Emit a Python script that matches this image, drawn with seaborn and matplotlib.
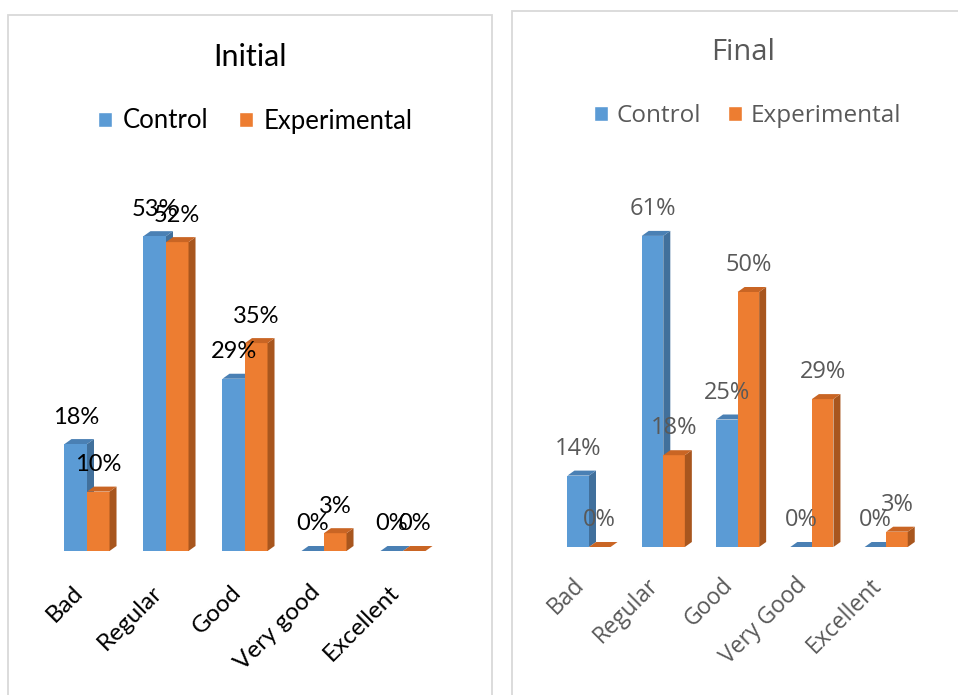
import matplotlib
matplotlib.use("Agg")
import matplotlib.pyplot as plt
import numpy as np
import pandas as pd
import seaborn as sns
from matplotlib.patches import Polygon, Rectangle, Patch

# ---- data -------------------------------------------------------------
categories_initial = ["Bad", "Regular", "Good", "Very good", "Excellent"]
categories_final = ["Bad", "Regular", "Good", "Very Good", "Excellent"]
groups = ["Control", "Experimental"]

initial_control = [18, 53, 29, 0, 0]
initial_experimental = [10, 52, 35, 3, 0]
final_control = [14, 61, 25, 0, 0]
final_experimental = [0, 18, 50, 29, 3]

# ---- style ------------------------------------------------------------
FRONT = {"Control": "#5B9BD5", "Experimental": "#ED7D31"}
SIDE = {"Control": "#41709C", "Experimental": "#A8561E"}
TOP = {"Control": "#4A80B4", "Experimental": "#C96524"}
DEPTH_X, DEPTH_Y = 7, 5  # pseudo-3D depth in pixels

W, H = 958, 695
sns.set_style("white")
fig = plt.figure(figsize=(W / 100, H / 100), dpi=100)
fig.patch.set_facecolor("white")


def px_axes(left, top, right, bottom):
    return fig.add_axes([left / W, 1 - bottom / H, (right - left) / W, (bottom - top) / H])


def draw_panel(ax, cats, ctrl, exp, width, ymax, family, color, label_fs, tick_fs, tick_pad):
    df = pd.DataFrame({
        "category": cats * 2,
        "group": [groups[0]] * len(cats) + [groups[1]] * len(cats),
        "value": ctrl + exp,
    })
    sns.barplot(data=df, x="category", y="value", hue="group", order=cats,
                hue_order=groups, palette=FRONT, width=width, saturation=1,
                errorbar=None, legend=False, ax=ax)
    ax.set_xlim(-0.5, len(cats) - 0.5)
    ax.set_ylim(0, ymax)

    to_px = ax.transData
    to_data = ax.transData.inverted()
    for gi, (g, cont) in enumerate(zip(groups, ax.containers)):
        zfront = 3 + 2 * gi
        for bar, v in zip(cont.patches, ctrl if gi == 0 else exp):
            bar.set_zorder(zfront)
            bar.set_edgecolor("none")
            x0 = bar.get_x()
            x1 = x0 + bar.get_width()
            (px0, py0), (px1, py1) = to_px.transform([(x0, 0), (x1, v)])
            side = [(px1, py0), (px1 + DEPTH_X, py0 + DEPTH_Y),
                    (px1 + DEPTH_X, py1 + DEPTH_Y), (px1, py1)]
            top = [(px0, py1), (px0 + DEPTH_X, py1 + DEPTH_Y),
                   (px1 + DEPTH_X, py1 + DEPTH_Y), (px1, py1)]
            zside = zfront - 1 if gi == 0 else zfront + 1
            if v > 0:
                ax.add_patch(Polygon(to_data.transform(side), closed=True,
                                     facecolor=SIDE[g], edgecolor="none",
                                     zorder=zside, clip_on=False))
            ax.add_patch(Polygon(to_data.transform(top), closed=True,
                                 facecolor=TOP[g], edgecolor="none",
                                 zorder=zside, clip_on=False))
            ax.annotate(f"{v}%", xy=((x0 + x1) / 2, v), xytext=(0, 27),
                        textcoords="offset pixels", ha="center", va="center",
                        fontsize=label_fs, family=family, color=color,
                        zorder=10, annotation_clip=False)

    ax.set_xticks(range(len(cats)))
    ax.set_xticklabels(cats, rotation=45, ha="right", va="top",
                       fontsize=tick_fs, family=family, color=color)
    ax.tick_params(axis="x", length=0, pad=tick_pad)
    ax.set_yticks([])
    ax.set_xlabel("")
    ax.set_ylabel("")
    for s in ax.spines.values():
        s.set_visible(False)
    ax.patch.set_alpha(0)


# ---- panel frames -----------------------------------------------------
fig.add_artist(Rectangle((8 / W, 1 - 720 / H), 484 / W, 705 / H,
                         transform=fig.transFigure, fill=False,
                         edgecolor="#d9d9d9", linewidth=1.3))
fig.add_artist(Rectangle((512 / W, 1 - 720 / H), 470 / W, 709 / H,
                         transform=fig.transFigure, fill=False,
                         edgecolor="#d9d9d9", linewidth=1.3))

# ---- Initial ----------------------------------------------------------
ax1 = px_axes(47.5, 194.6, 442.5, 551)
draw_panel(ax1, categories_initial, initial_control, initial_experimental,
           width=0.57, ymax=60, family="Lato", color="black",
           label_fs=17, tick_fs=17.5, tick_pad=22)
fig.text(250 / W, 1 - 57 / H, "Initial", ha="center", va="center",
         fontsize=22, family="Lato", color="black")
fig.legend([Patch(facecolor=FRONT[g]) for g in groups], groups,
           loc="center", bbox_to_anchor=(255 / W, 1 - 121 / H), ncol=2,
           frameon=False, prop={"family": "Lato", "size": 18.5},
           handlelength=0.55, handleheight=0.55, handletextpad=0.4,
           columnspacing=1.2, labelcolor="black")

# ---- Final ------------------------------------------------------------
ax2 = px_axes(551.85, 190, 923.35, 547)
draw_panel(ax2, categories_final, final_control, final_experimental,
           width=0.58, ymax=70, family="Open Sans", color="#595959",
           label_fs=17, tick_fs=16.5, tick_pad=19)
fig.text(743 / W, 1 - 52 / H, "Final", ha="center", va="center",
         fontsize=21, family="Open Sans", color="#595959")
fig.legend([Patch(facecolor=FRONT[g]) for g in groups], groups,
           loc="center", bbox_to_anchor=(747.5 / W, 1 - 116 / H), ncol=2,
           frameon=False, prop={"family": "Open Sans", "size": 17.5},
           handlelength=0.6, handleheight=0.6, handletextpad=0.35,
           columnspacing=1.1, labelcolor="#595959")

fig.savefig("out.png", dpi=100, facecolor="white")
